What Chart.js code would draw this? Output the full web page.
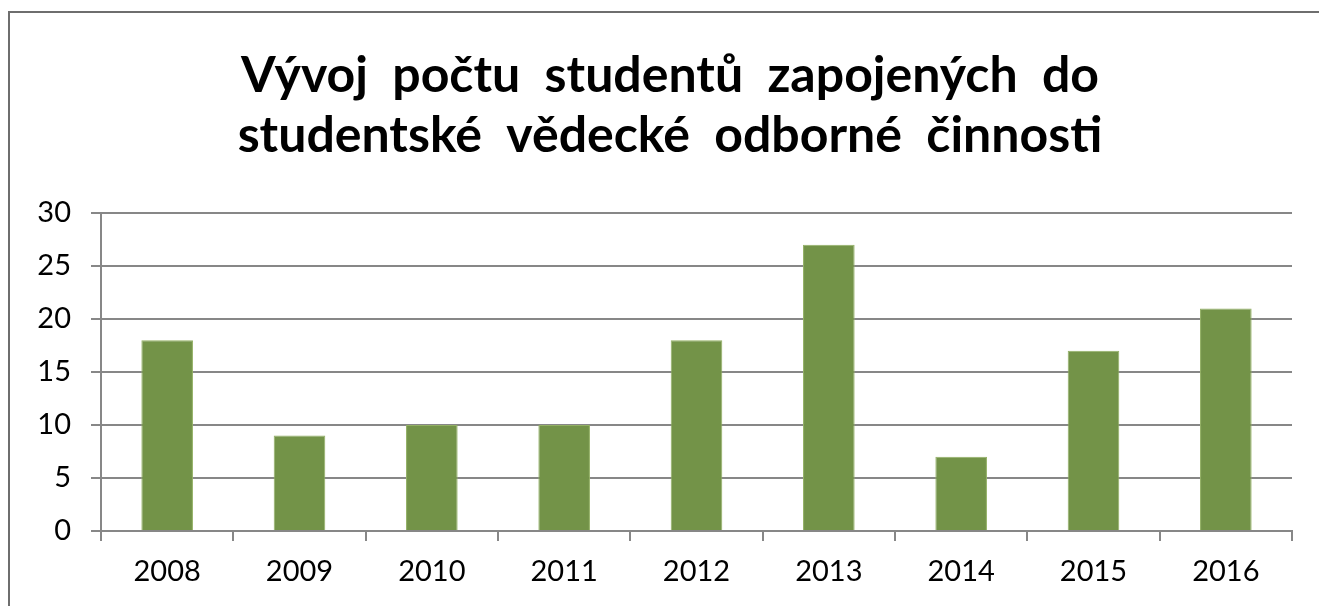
<!DOCTYPE html>
<html>
<head>
<meta charset="utf-8">
<script src="https://cdn.jsdelivr.net/npm/chart.js@4.4.0/dist/chart.umd.min.js"></script>
<style>
html,body{margin:0;padding:0;background:#fff;overflow:hidden;}
#wrap{position:absolute;left:0;top:0;width:1319px;height:606px;overflow:hidden;}
#frame{position:absolute;left:8px;top:11px;width:1330px;height:620px;border:2px solid #6e6e6e;box-sizing:border-box;pointer-events:none;}
</style>
</head>
<body>
<div id="wrap"><canvas id="c" width="1340" height="606"></canvas></div>
<div id="frame"></div>
<script>
const categories = ['2008','2009','2010','2011','2012','2013','2014','2015','2016'];
const studentCounts = [18, 9, 10, 10, 18, 27, 7, 17, 21];
const titleLines = ['Vývoj  počtu  studentů  zapojených  do', 'studentské  vědecké  odborné  činnosti'];
const yTicks = [0, 5, 10, 15, 20, 25, 30];

const FONT = 'Lato, "Open Sans", sans-serif';
const gridColor = '#878787';

new Chart(document.getElementById('c'), {
  type: 'bar',
  data: {
    labels: categories,
    datasets: [{
      data: studentCounts,
      backgroundColor: '#739348',
      borderColor: '#93b064',
      borderWidth: 1,
      categoryPercentage: 1,
      barPercentage: 0.39
    }]
  },
  options: {
    responsive: false,
    animation: false,
    devicePixelRatio: 1,
    layout: { padding: 0 },
    plugins: {
      legend: { display: false },
      tooltip: { enabled: false },
      title: {
        display: true,
        text: titleLines,
        color: '#000',
        font: { family: FONT, size: 50, weight: 'bold', lineHeight: 1.2 },
        padding: { top: 46, bottom: 47 }
      }
    },
    scales: {
      x: {
        offset: true,
        grid: { offset: true, drawOnChartArea: false, drawTicks: true, tickLength: 10, color: gridColor, lineWidth: 2 },
        border: { display: true, color: gridColor, width: 2 },
        ticks: { color: '#000', font: { family: FONT, size: 29 }, padding: 13, maxRotation: 0 },
        afterFit: s => { s.height = 75; }
      },
      y: {
        min: 0, max: 30,
        afterBuildTicks: s => { s.ticks = yTicks.map(v => ({ value: v })); },
        grid: { color: gridColor, lineWidth: 2, tickLength: 10 },
        border: { display: true, color: gridColor, width: 2 },
        ticks: { color: '#000', font: { family: FONT, size: 29 }, padding: 20 },
        afterFit: s => { s.width = 101; }
      },
      yRightSpace: {
        position: 'right',
        min: 0, max: 30,
        grid: { display: false },
        border: { display: false },
        ticks: { display: false },
        afterFit: s => { s.width = 48; }
      }
    }
  }
});
</script>
</body>
</html>
